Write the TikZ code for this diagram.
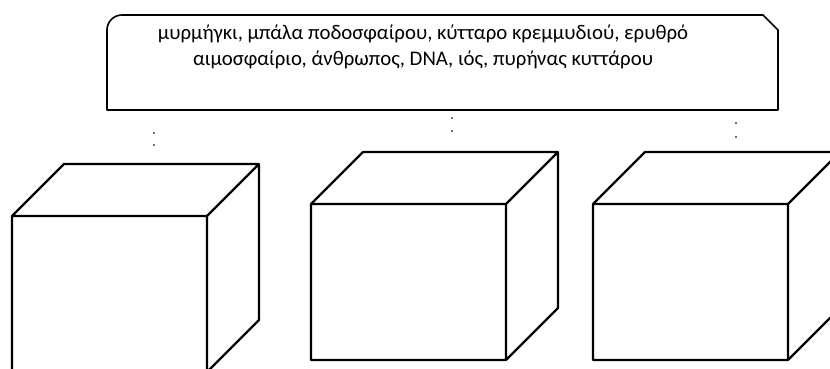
\documentclass[tikz,border=0pt]{standalone}
\usepackage{fontspec}
\setmainfont{Carlito}

\tikzset{cuboid/.style args =
  {#1:#2:#3}{insert path={+(0,0) rectangle +(#1,#2)
     +(0,#2) -- +(#3,#2+#3) -- +(#1+#3,#2+#3) -- +(#1+#3,#3) -- +(#1,0)
     +(#1,#2) -- +(#1+#3,#2+#3)}}}

\begin{document}
\begin{tikzpicture}[x=1pt, y=1pt, line join=round]
  \useasboundingbox (0,0) rectangle (830,369);
  \clip (0,0) rectangle (830,369);

  % -- list of objects
  \draw [line width=1.6] (107,259) -- (107,339) arc (180:90:15)
        -- (763,354) -- (778,339) -- (778,259) -- cycle;
  \node (list) [anchor=base, align=center, font=\fontsize{20.8}{26}\selectfont]
    at (423,303) {μυρμήγκι, μπάλα ποδοσφαίρου, κύτταρο κρεμμυδιού, ερυθρό\\
                  αιμοσφαίριο, άνθρωπος, DNA, ιός, πυρήνας κυττάρου};

  % small marks under the list
  \foreach \x/\y in {154/236, 154/224, 452/251, 452/238, 736/246, 736/232}
    \fill [black!55] (\x-0.6,\y-1.2) rectangle (\x+0.6,\y+1.2);

  % three boxes
  \draw [line width=2.2] (12,-3)  [cuboid=195:156:52];
  \draw [line width=2.2] (311,9)  [cuboid=195:156:52];
  \draw [line width=2.2] (593,9)  [cuboid=195:156:52];
\end{tikzpicture}
\end{document}
